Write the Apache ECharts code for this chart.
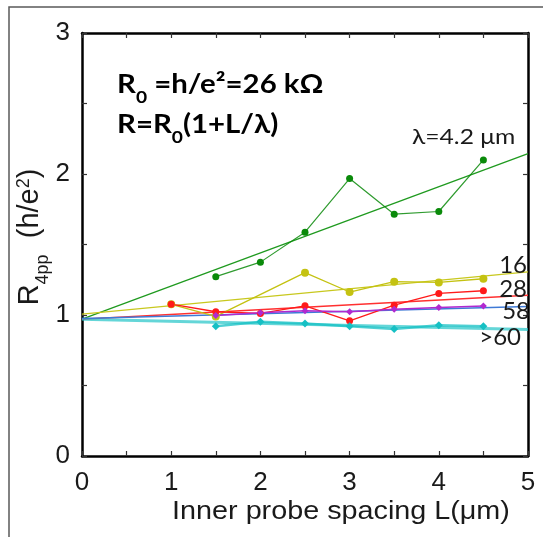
<!DOCTYPE html>
<html>
<head>
<meta charset="utf-8">
<script src="https://cdn.jsdelivr.net/npm/echarts@6/dist/echarts.min.js"></script>
<style>html,body{margin:0;padding:0;background:#fff;}#c{width:543px;height:537px;}</style>
</head>
<body>
<div id="c"></div>
<script>
// ---- data ----
const xTicks = [0, 1, 2, 3, 4, 5];
const yTicks = [0, 1, 2, 3];
const greenX = [1.5, 2, 2.5, 3, 3.5, 4, 4.5];
const greenY = [1.272, 1.375, 1.587, 1.968, 1.715, 1.734, 2.100];
const yellowX = [1, 1.5, 2.5, 3, 3.5, 4, 4.5];
const yellowY = [1.076, 0.990, 1.300, 1.163, 1.236, 1.231, 1.257];
const redX = [1, 1.5, 2, 2.5, 3, 3.5, 4, 4.5];
const redY = [1.077, 1.023, 1.011, 1.065, 0.959, 1.070, 1.153, 1.172];
const purpleX = [1.5, 2, 2.5, 3, 3.5, 4, 4.5];
const purpleY = [0.997, 1.016, 1.030, 1.023, 1.040, 1.054, 1.063];
const cyanX = [1.5, 2, 2.5, 3, 3.5, 4, 4.5];
const cyanY = [0.921, 0.952, 0.940, 0.921, 0.900, 0.928, 0.921];
// fit lines R = R0(1+L/lambda): values at L=0 and L=5
const fitX = [0, 5];
const fitGreen = [0.970, 2.145];
const fitYellow = [1.006, 1.306];
const fitRed = [0.970, 1.140];
const fit58 = [0.975, 1.060];
const fitCyan = [0.970, 0.898];
const curveLabels = ['λ=4.2 μm', '16', '28', '58', '>60'];

const zip = (xs, ys) => xs.map((x, i) => [x, ys[i]]);

function dataSeries(xs, ys, color, symbol, size, width, opacity) {
  return {
    type: 'line', data: zip(xs, ys), symbol: symbol, symbolSize: size,
    lineStyle: {color: color, width: width, opacity: opacity},
    itemStyle: {color: color}, z: 3, animation: false
  };
}
function fitSeries(ys, color, width, opacity) {
  return {
    type: 'line', data: zip(fitX, ys), symbol: 'none',
    lineStyle: {color: color, width: width, opacity: opacity}, z: 2, animation: false
  };
}

const chart = echarts.init(document.getElementById('c'), null, {renderer: 'canvas'});
const axisFont = {fontFamily: 'Liberation Sans', fontSize: 26, color: '#1a1a1a'};
const base = {
  min: 0, interval: 0.5, splitLine: {show: false},
  axisLine: {show: true, onZero: false, lineStyle: {color: '#000', width: 2.5}},
  axisTick: {show: true, inside: true, length: 5, lineStyle: {color: '#333', width: 1.2}}
};
const boldRich = {
  b: {fontFamily: 'Lato', fontWeight: 'bold', fontSize: 26, lineHeight: 30, verticalAlign: 'top', fill: '#000'},
  s: {fontFamily: 'Lato', fontWeight: 'bold', fontSize: 17, lineHeight: 17, padding: [17, 0, 0, 0], verticalAlign: 'top', fill: '#000'}
};
chart.setOption({
  animation: false,
  grid: {left: 82, top: 33, right: 15, bottom: 81, containLabel: false},
  xAxis: [
    Object.assign({}, base, {type: 'value', max: 5, position: 'bottom',
      axisLabel: Object.assign({}, axisFont, {margin: 14,
        formatter: v => xTicks.indexOf(v) >= 0 ? String(v) : ''})}),
    Object.assign({}, base, {type: 'value', max: 5, position: 'top', axisLabel: {show: false}})
  ],
  yAxis: [
    Object.assign({}, base, {type: 'value', max: 3, position: 'left',
      axisLabel: Object.assign({}, axisFont, {margin: 12,
        formatter: v => yTicks.indexOf(v) >= 0 ? String(v) : ''})}),
    Object.assign({}, base, {type: 'value', max: 3, position: 'right', axisLabel: {show: false}})
  ],
  series: [
    fitSeries(fitGreen, '#1f9a1f', 1.3, 1),
    fitSeries(fitYellow, '#c8c81e', 1.4, 1),
    fitSeries(fitRed, '#ff3030', 1.4, 1),
    fitSeries(fitCyan, '#22c4c8', 3, 0.7),
    fitSeries(fit58, '#3f7ad6', 1.6, 1),
    dataSeries(greenX, greenY, '#0a8a0a', 'circle', 7, 1.2, 0.85),
    dataSeries(yellowX, yellowY, '#c4c212', 'circle', 8, 1.3, 1),
    dataSeries(redX, redY, '#ff1a1a', 'circle', 7, 1.3, 1),
    dataSeries(purpleX, purpleY, '#b02ad0', 'diamond', 7, 1.5, 1),
    dataSeries(cyanX, cyanY, '#16c0c4', 'diamond', 8, 2.5, 0.75)
  ],
  graphic: [
    {type: 'rect', shape: {x: 9, y: 7, width: 700, height: 700}, silent: true, z: -10,
      style: {fill: 'none', stroke: '#5a5a5a', lineWidth: 1.5}},
    {type: 'text', x: 117, y: 87, z: 10, scaleX: 1.13, style: {
      text: '{b|R}{s|0}{b| =h/e²=26 kΩ}', verticalAlign: 'middle', align: 'left', rich: boldRich}},
    {type: 'text', x: 117, y: 127, z: 10, scaleX: 1.13, style: {
      text: '{b|R=R}{s|0}{b|(1+L/λ)}', verticalAlign: 'middle', align: 'left', rich: boldRich}},
    {type: 'text', x: 31, y: 237, rotation: Math.PI / 2, z: 10, style: {
      text: '{m|R}{s|4pp}{m|  (h/e}{p|2}{m|)}', align: 'center', verticalAlign: 'middle',
      rich: {
        m: {fontFamily: 'Liberation Sans', fontSize: 29, lineHeight: 32, verticalAlign: 'top', fill: '#1a1a1a'},
        s: {fontFamily: 'Liberation Sans', fontSize: 18, lineHeight: 18, padding: [19, 0, 0, 0], verticalAlign: 'top', fill: '#1a1a1a'},
        p: {fontFamily: 'Liberation Sans', fontSize: 18, lineHeight: 18, verticalAlign: 'top', fill: '#1a1a1a'}
      }}},
    {type: 'text', x: 341, y: 512, z: 10, scaleX: 1.15, style: {
      text: 'Inner probe spacing L(μm)', align: 'center', verticalAlign: 'middle',
      fontFamily: 'Liberation Sans', fontSize: 25, fill: '#1a1a1a'}},
    {type: 'text', x: 412, y: 137, z: 10, scaleX: 1.12, style: {
      text: curveLabels[0], align: 'left', verticalAlign: 'middle',
      fontFamily: 'Lato', fontSize: 22, fill: '#1a1a1a'}},
    {type: 'text', x: 527, y: 265, z: 10, style: {
      text: curveLabels[1], align: 'right', verticalAlign: 'middle',
      fontFamily: 'Lato', fontSize: 24, fill: '#1a1a1a'}},
    {type: 'text', x: 527, y: 289, z: 10, style: {
      text: curveLabels[2], align: 'right', verticalAlign: 'middle',
      fontFamily: 'Lato', fontSize: 24, fill: '#1a1a1a'}},
    {type: 'text', x: 530, y: 311, z: 10, style: {
      text: curveLabels[3], align: 'right', verticalAlign: 'middle',
      fontFamily: 'Lato', fontSize: 24, fill: '#1a1a1a'}},
    {type: 'text', x: 521, y: 337, z: 10, style: {
      text: curveLabels[4], align: 'right', verticalAlign: 'middle',
      fontFamily: 'Lato', fontSize: 24, fill: '#1a1a1a'}}
  ]
});
</script>
</body>
</html>
